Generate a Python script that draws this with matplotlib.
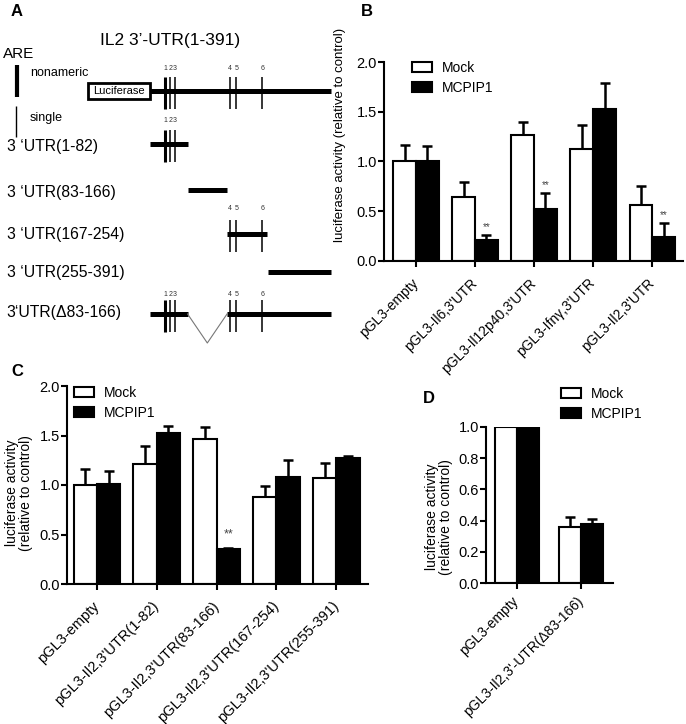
import matplotlib
matplotlib.use("Agg")
import matplotlib.pyplot as plt
from matplotlib.patches import Rectangle, Patch
import numpy as np

plt.rcParams['font.family'] = ['Liberation Sans', 'DejaVu Sans']

# ---------------- data ----------------
# Panel A: schematic of IL2 3'-UTR (nucleotide coordinates)
utr_len = 391
are_pos = [34, 45, 55, 173, 187, 243]
are_label = ['1', '2', '3', '4', '5', '6']
are_nonameric = [True, False, False, False, False, False]
fragments = [("3 \u2018UTR(1-82)", 1, 82),
             ("3 \u2018UTR(83-166)", 83, 166),
             ("3 \u2018UTR(167-254)", 167, 254),
             ("3 \u2018UTR(255-391)", 255, 391)]
delta_label = "3\u2018UTR(\u039483-166)"
delta_keep = [(1, 82), (167, 391)]

# Panel B
b_cats = ['pGL3-empty', 'pGL3-Il6,3\'UTR', 'pGL3-Il12p40,3\'UTR',
          'pGL3-Ifn\u03b3,3\'UTR', 'pGL3-Il2,3\'UTR']
b_mock = [1.00, 0.64, 1.265, 1.13, 0.565]
b_mock_err = [0.165, 0.155, 0.133, 0.235, 0.19]
b_mcp = [1.00, 0.207, 0.525, 1.528, 0.237]
b_mcp_err = [0.155, 0.057, 0.16, 0.265, 0.14]
b_sig = [False, True, True, False, True]

# Panel C
c_cats = ['pGL3-empty', 'pGL3-Il2,3\'UTR(1-82)', 'pGL3-Il2,3\'UTR(83-166)',
          'pGL3-Il2,3\'UTR(167-254)', 'pGL3-Il2,3\'UTR(255-391)']
c_mock = [1.00, 1.21, 1.468, 0.876, 1.07]
c_mock_err = [0.16, 0.18, 0.12, 0.117, 0.15]
c_mcp = [1.01, 1.525, 0.355, 1.084, 1.27]
c_mcp_err = [0.13, 0.075, 0.01, 0.166, 0.02]
c_sig = [False, False, True, False, False]

# Panel D
d_cats = ['pGL3-empty', 'pGL3-Il2,3\'-UTR(\u039483-166)']
d_mock = [1.00, 0.362]
d_mock_err = [0.0, 0.062]
d_mcp = [1.00, 0.377]
d_mcp_err = [0.0, 0.032]

W, H = 686, 724
fig = plt.figure(figsize=(W / 100, H / 100), dpi=100)


def px_axes(x0, y0, x1, y1):
    """axes from pixel box (top-left origin)"""
    return fig.add_axes([x0 / W, 1 - y1 / H, (x1 - x0) / W, (y1 - y0) / H])


# ---------------- Panel A ----------------
axA = px_axes(0, 0, 340, 390)
axA.set_xlim(0, 340)
axA.set_ylim(390, 0)
axA.axis('off')

x_start, x_end = 150.0, 331.0


def nt2x(p):
    return x_start + (p - 1) * (x_end - x_start) / (utr_len - 1)


def draw_line(p0, p1, y, lw=3.6):
    axA.plot([nt2x(p0), nt2x(p1)], [y, y], color='black', lw=lw,
             solid_capstyle='butt')


def draw_ares(p0, p1, y, half=16, lab_y=None):
    for p, lab, nona in zip(are_pos, are_label, are_nonameric):
        if p0 <= p <= p1:
            x = nt2x(p)
            axA.plot([x, x], [y - half, y + half], color='black',
                     lw=2.2 if nona else 1.1, solid_capstyle='butt')
            if lab_y is not None:
                axA.text(x, lab_y, lab, fontsize=5, color='#333333',
                         ha='center', va='center')


axA.text(17, 12, 'A', fontsize=12, fontweight='bold', ha='center', va='center')
axA.text(170, 40, 'IL2 3\u2019-UTR(1-391)', fontsize=12.5, ha='center', va='center')
axA.text(3, 54, 'ARE', fontsize=11, ha='left', va='center')
axA.plot([17, 17], [65, 97], color='black', lw=3, solid_capstyle='butt')
axA.plot([16, 16], [106, 137], color='black', lw=1, solid_capstyle='butt')
axA.text(30, 73, 'nonameric', fontsize=9, ha='left', va='center')
axA.text(30, 118, 'single', fontsize=9, ha='left', va='center')

# full construct
axA.add_patch(Rectangle((88, 83), 62, 16, facecolor='white', edgecolor='black', lw=2))
axA.text(119, 91.5, 'Luciferase', fontsize=8, ha='center', va='center')
draw_line(1, utr_len, 90.7)
draw_ares(1, utr_len, 93, half=16, lab_y=68)

# fragments
row_y = [144, 190, 234, 272]
label_y = [147, 192, 234, 273]
lab_rows = [121, None, 209, None]
for (lab, p0, p1), y, ly, lr in zip(fragments, row_y, label_y, lab_rows):
    axA.text(7, ly, lab, fontsize=11.3, ha='left', va='center')
    draw_line(p0, p1, y)
    draw_ares(p0, p1, y + 2, half=16, lab_y=lr)

# deletion construct
yd = 314
axA.text(6, 313, delta_label, fontsize=11.3, ha='left', va='center')
for p0, p1 in delta_keep:
    draw_line(p0, p1, yd)
draw_ares(1, utr_len, yd + 2, half=16, lab_y=294)
xa, xb = nt2x(delta_keep[0][1]), nt2x(delta_keep[1][0])
axA.plot([xa, (xa + xb) / 2, xb], [yd, 343, yd], color='#777777', lw=0.8)


# ---------------- bar chart helper ----------------
def bar_panel(ax, cats, mock, mock_err, mcp, mcp_err, width, ylim, yticks,
              xlim, tick_fs, lab_fs, xpad=10):
    x = np.arange(len(cats))
    off = width / 2
    ax.errorbar(x - off, mock, yerr=[np.zeros(len(mock)), mock_err], fmt='none',
                ecolor='black', elinewidth=1.8, capsize=3.3, capthick=1.8, zorder=1)
    ax.errorbar(x + off, mcp, yerr=[np.zeros(len(mcp)), mcp_err], fmt='none',
                ecolor='black', elinewidth=1.8, capsize=3.3, capthick=1.8, zorder=1)
    ax.bar(x - off, mock, width, facecolor='white', edgecolor='black', lw=1.5, zorder=2)
    ax.bar(x + off, mcp, width, facecolor='black', edgecolor='black', lw=1.5, zorder=2)
    ax.set_xlim(*xlim)
    ax.set_ylim(*ylim)
    ax.set_yticks(yticks)
    ax.set_yticklabels(['%.1f' % v for v in yticks], fontsize=tick_fs)
    ax.set_xticks(x)
    ax.set_xticklabels(cats, rotation=45, ha='right', va='center',
                       rotation_mode='anchor', fontsize=lab_fs)
    for s in ['top', 'right']:
        ax.spines[s].set_visible(False)
    for s in ['left', 'bottom']:
        ax.spines[s].set_linewidth(1.5)
    ax.tick_params(axis='y', length=4, width=1.5, pad=1)
    ax.tick_params(axis='x', length=4.3, width=1.5, pad=xpad)
    return x


def add_legend(ax, x_px, y_px):
    handles = [Patch(facecolor='white', edgecolor='black', lw=1.5, label='Mock'),
               Patch(facecolor='black', edgecolor='black', lw=1.5, label='MCPIP1')]
    ax.legend(handles=handles, loc='upper left', frameon=False, fontsize=10,
              bbox_to_anchor=(x_px / W, 1 - y_px / H), bbox_transform=fig.transFigure,
              borderpad=0, borderaxespad=0, handlelength=1.45, handleheight=0.75,
              handletextpad=0.7, labelspacing=0.45)


# ---------------- Panel B ----------------
axB = px_axes(384, 62, 683, 261)
xb_ = bar_panel(axB, b_cats, b_mock, b_mock_err, b_mcp, b_mcp_err, 0.385,
                (0, 2.0), [0.0, 0.5, 1.0, 1.5, 2.0], (-0.54, 4.52), 10.5, 10)
for xi, v, e, s in zip(xb_, b_mcp, b_mcp_err, b_sig):
    if s:
        axB.text(xi + 0.1925, v + e + 0.03, '**', fontsize=7, color='#444444',
                 ha='center', va='bottom')
axB.set_ylabel('luciferase activity (relative to control)', fontsize=9.5)
axB.yaxis.set_label_coords((346 - 384) / 299, (261 - 135) / 199)
add_legend(axB, 412, 61)
fig.text(367 / W, 1 - 12 / H, 'B', fontsize=12, fontweight='bold', ha='center', va='center')

# ---------------- Panel C ----------------
axC = px_axes(67, 386, 368, 584)
xc_ = bar_panel(axC, c_cats, c_mock, c_mock_err, c_mcp, c_mcp_err, 0.39,
                (0, 2.0), [0.0, 0.5, 1.0, 1.5, 2.0], (-0.50, 4.53), 10.5, 10.5)
for xi, v, e, s in zip(xc_, c_mcp, c_mcp_err, c_sig):
    if s:
        axC.text(xi + 0.195, v + e + 0.07, '**', fontsize=9, color='#444444',
                 ha='center', va='bottom')
axC.set_ylabel('luciferase activity\n(relative to control)', fontsize=10,
               linespacing=1.0)
axC.yaxis.set_label_coords((33 - 67) / 301, (584 - 493) / 198)
add_legend(axC, 74, 386)
fig.text(17 / W, 1 - 372 / H, 'C', fontsize=12, fontweight='bold', ha='center', va='center')

# ---------------- Panel D ----------------
axD = px_axes(486, 426.7, 613, 583.3)
bar_panel(axD, d_cats, d_mock, d_mock_err, d_mcp, d_mcp_err, 0.34,
          (0, 1.0), [0.0, 0.2, 0.4, 0.6, 0.8, 1.0], (-0.48, 1.5), 10.5, 10,
          xpad=7)
axD.set_ylabel('luciferase activity\n(relative to control)', fontsize=10,
               linespacing=1.0)
axD.yaxis.set_label_coords((453 - 486) / 127, (583.3 - 517) / 156.6)
add_legend(axD, 561, 387)
fig.text(429 / W, 1 - 399 / H, 'D', fontsize=12, fontweight='bold', ha='center', va='center')

fig.savefig('out.png', dpi=100, facecolor='white')
